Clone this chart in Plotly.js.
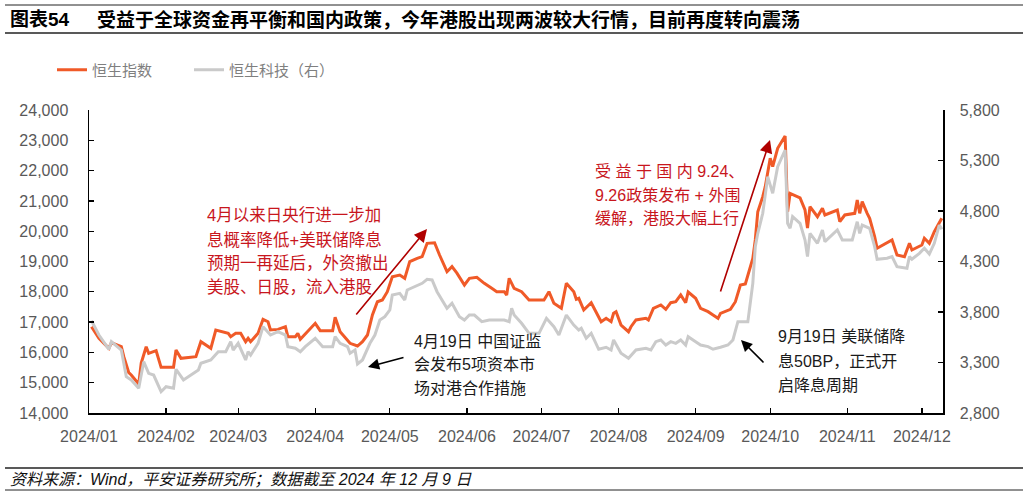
<!DOCTYPE html>
<html>
<head>
<meta charset="utf-8">
<script src="https://cdn.plot.ly/plotly-3.0.1.min.js"></script>
<style>
body { margin: 0; background: #fff; }
#chart { width: 1028px; height: 497px; }
</style>
</head>
<body>
<div id="chart"></div>
<script>
// 恒生指数 (left axis)
const hsiDates = [
  '2024-01-02','2024-01-05','2024-01-09','2024-01-10','2024-01-14','2024-01-15','2024-01-17','2024-01-18',
  '2024-01-21','2024-01-22','2024-01-24','2024-01-25','2024-01-28','2024-01-30','2024-02-01','2024-02-04',
  '2024-02-05','2024-02-07','2024-02-13','2024-02-15','2024-02-19','2024-02-21','2024-02-26','2024-02-27',
  '2024-02-29','2024-03-02','2024-03-04','2024-03-05','2024-03-06','2024-03-09','2024-03-11','2024-03-13',
  '2024-03-14','2024-03-17','2024-03-20','2024-03-21','2024-03-24','2024-03-25','2024-03-26','2024-04-01',
  '2024-04-03','2024-04-08','2024-04-09','2024-04-11','2024-04-15','2024-04-18','2024-04-20','2024-04-22',
  '2024-04-24','2024-04-26','2024-04-28','2024-04-30','2024-05-02','2024-05-05','2024-05-07','2024-05-09',
  '2024-05-12','2024-05-14','2024-05-16','2024-05-19','2024-05-21','2024-05-24','2024-05-26','2024-05-28',
  '2024-05-31','2024-06-02','2024-06-05','2024-06-08','2024-06-11','2024-06-13','2024-06-16','2024-06-17',
  '2024-06-18','2024-06-20','2024-06-23','2024-06-26','2024-07-02','2024-07-04','2024-07-06','2024-07-09',
  '2024-07-11','2024-07-14','2024-07-15','2024-07-16','2024-07-18','2024-07-21','2024-07-25','2024-07-27',
  '2024-07-29','2024-07-30','2024-07-31','2024-08-02','2024-08-05','2024-08-06','2024-08-08','2024-08-12',
  '2024-08-13','2024-08-15','2024-08-18','2024-08-20','2024-08-22','2024-08-24','2024-08-26','2024-08-28',
  '2024-08-29','2024-09-01','2024-09-03','2024-09-06','2024-09-08','2024-09-10','2024-09-11','2024-09-14',
  '2024-09-15','2024-09-17','2024-09-19','2024-09-21','2024-09-23','2024-09-24','2024-09-25','2024-09-26',
  '2024-09-28','2024-09-29','2024-10-01','2024-10-02','2024-10-04','2024-10-07','2024-10-08','2024-10-09',
  '2024-10-13','2024-10-15','2024-10-16','2024-10-17','2024-10-20','2024-10-22','2024-10-23','2024-10-28',
  '2024-10-29','2024-10-31','2024-11-04','2024-11-05','2024-11-06','2024-11-07','2024-11-09','2024-11-10',
  '2024-11-12','2024-11-13','2024-11-19','2024-11-21','2024-11-24','2024-11-26','2024-11-27','2024-12-01',
  '2024-12-02','2024-12-04','2024-12-06','2024-12-09'
];
const hsiValues = [
  16848,16465,16135,16320,16188,15858,15330,15254,
  14957,15650,16188,15970,16056,15508,15508,15508,
  16079,15805,15858,16353,16135,16739,16630,16518,
  16630,16630,16353,16465,16353,16630,17092,17013,
  16739,16760,16848,16518,16518,16630,16432,16960,
  16716,16716,17158,16683,16300,16211,16353,16574,
  17235,17673,17730,18003,18497,18553,18445,18994,
  19104,19160,19600,19620,19214,18664,18830,18614,
  18224,18445,18478,18280,18115,18003,18003,17895,
  18445,18115,18003,17730,17730,18003,17620,17455,
  18280,18003,17752,17785,17400,17640,17013,17125,
  17013,17290,17343,16904,16683,16848,17070,17125,
  17070,17455,17565,17420,17640,17673,17895,17640,
  17993,17785,17455,17345,17235,17125,17290,17375,
  17420,17673,18224,18257,18800,19104,19710,20644,
  21139,21470,22406,22130,22736,23142,20644,21250,
  21100,20700,20100,20810,20478,20756,20535,20700,
  20313,20535,20590,21030,20590,20975,20590,20426,
  19819,19436,19710,19214,19160,19600,19380,19545,
  19766,19600,19984,20426
];

// 恒生科技 (right axis)
const hstDates = [
  '2024-01-02','2024-01-05','2024-01-09','2024-01-10','2024-01-14','2024-01-16','2024-01-18','2024-01-21',
  '2024-01-23','2024-01-25','2024-01-27','2024-01-30','2024-02-01','2024-02-04','2024-02-05','2024-02-08',
  '2024-02-14','2024-02-15','2024-02-19','2024-02-22','2024-02-25','2024-02-27','2024-02-28','2024-03-01',
  '2024-03-04','2024-03-05','2024-03-06','2024-03-09','2024-03-11','2024-03-14','2024-03-17','2024-03-20',
  '2024-03-21','2024-03-24','2024-03-26','2024-03-28','2024-04-01','2024-04-04','2024-04-08','2024-04-09',
  '2024-04-11','2024-04-14','2024-04-15','2024-04-17','2024-04-18','2024-04-20','2024-04-23','2024-04-25',
  '2024-04-27','2024-04-29','2024-05-01','2024-05-02','2024-05-05','2024-05-07','2024-05-08','2024-05-11',
  '2024-05-14','2024-05-16','2024-05-18','2024-05-20','2024-05-23','2024-05-24','2024-05-26','2024-05-29',
  '2024-05-31','2024-06-02','2024-06-04','2024-06-07','2024-06-10','2024-06-14','2024-06-16','2024-06-18',
  '2024-06-19','2024-06-20','2024-06-23','2024-06-26','2024-06-30','2024-07-03','2024-07-06','2024-07-08',
  '2024-07-11','2024-07-14','2024-07-16','2024-07-17','2024-07-19','2024-07-21','2024-07-24','2024-07-27',
  '2024-07-29','2024-07-30','2024-08-02','2024-08-05','2024-08-08','2024-08-12','2024-08-14','2024-08-16',
  '2024-08-18','2024-08-20','2024-08-22','2024-08-24','2024-08-26','2024-08-28','2024-08-29','2024-09-01',
  '2024-09-03','2024-09-06','2024-09-08','2024-09-11','2024-09-14','2024-09-16','2024-09-18','2024-09-22',
  '2024-09-23','2024-09-24','2024-09-25','2024-09-26','2024-09-28','2024-09-30','2024-10-02','2024-10-04',
  '2024-10-07','2024-10-08','2024-10-09','2024-10-10','2024-10-13','2024-10-15','2024-10-16','2024-10-17',
  '2024-10-20','2024-10-22','2024-10-23','2024-10-28','2024-10-30','2024-11-03','2024-11-05','2024-11-06',
  '2024-11-07','2024-11-10','2024-11-12','2024-11-13','2024-11-17','2024-11-19','2024-11-21','2024-11-25',
  '2024-11-26','2024-11-27','2024-11-30','2024-12-02','2024-12-04','2024-12-06','2024-12-08','2024-12-09'
];
const hstValues = [
  3714,3572,3431,3506,3424,3160,3127,3045,
  3308,3193,3176,3011,3060,3045,3233,3127,
  3226,3292,3325,3407,3407,3506,3424,3490,
  3325,3407,3374,3490,3655,3572,3605,3572,
  3457,3441,3407,3457,3540,3457,3457,3556,
  3490,3457,3391,3424,3285,3325,3490,3572,
  3721,3754,3820,3968,3985,3919,4018,4051,
  4084,4124,4117,4001,3869,3837,3886,3754,
  3721,3770,3770,3704,3721,3721,3721,3704,
  3837,3770,3688,3589,3589,3737,3655,3572,
  3770,3671,3622,3639,3540,3589,3431,3451,
  3424,3523,3391,3342,3424,3440,3424,3506,
  3523,3473,3506,3490,3523,3473,3556,3506,
  3473,3457,3431,3451,3473,3523,3704,3704,
  3919,4084,4447,4579,4777,5140,4975,5239,
  5404,4678,4629,4744,4678,4513,4348,4579,
  4480,4612,4496,4612,4513,4513,4694,4579,
  4661,4629,4447,4322,4332,4348,4249,4233,
  4348,4322,4381,4431,4374,4480,4661,4620
];

const legendNames = ['恒生指数', '恒生科技（右）'];
const leftTicks = [14000, 24000, 1000];
const rightTicks = [2800, 5800, 500];

// pixel -> paper helpers (plot area is x 89..943, y 110..413)
const PL = 89, PR = 943, PT = 110, PB = 413;
const px = x => (x - PL) / (PR - PL);
const py = y => (PB - y) / (PB - PT);

const FONT = 'Liberation Sans, Arial, Noto Sans CJK SC, sans-serif';
const RED = '#C8161D';

const traces = [
  {
    x: hstDates, y: hstValues, yaxis: 'y2', name: legendNames[1],
    type: 'scatter', mode: 'lines', legendrank: 2,
    line: { color: '#CACACA', width: 3 }
  },
  {
    x: hsiDates, y: hsiValues, name: legendNames[0],
    type: 'scatter', mode: 'lines', legendrank: 1,
    line: { color: '#F05A28', width: 3 }
  }
];

function textLines(lines, x, ys, color, size) {
  return lines.map((t, i) => ({
    xref: 'paper', yref: 'paper', x: px(x), y: py(ys[i]),
    xanchor: 'left', yanchor: 'middle', showarrow: false,
    text: t, font: { size: size, color: color, family: FONT }
  }));
}

function arrow(tail, tip, color, size) {
  return {
    xref: 'paper', yref: 'paper', x: px(tip[0]), y: py(tip[1]),
    axref: 'pixel', ayref: 'pixel', ax: tail[0] - tip[0], ay: tail[1] - tip[1],
    text: '', showarrow: true, arrowhead: 2, arrowsize: size, arrowwidth: 1.6,
    arrowcolor: color, standoff: 0
  };
}

const annotations = [
  { xref: 'paper', yref: 'paper', x: px(8), y: py(20), xanchor: 'left', yanchor: 'middle',
    showarrow: false, text: '<b>图表54</b>', font: { size: 19, color: '#000', family: FONT } },
  { xref: 'paper', yref: 'paper', x: px(95), y: py(20), xanchor: 'left', yanchor: 'middle',
    showarrow: false, text: '<b>受益于全球资金再平衡和国内政策，今年港股出现两波较大行情，目前再度转向震荡</b>',
    font: { size: 19, color: '#000', family: FONT } },
  { xref: 'paper', yref: 'paper', x: px(8), y: py(479), xanchor: 'left', yanchor: 'middle',
    showarrow: false, text: '资料来源：Wind，平安证券研究所；数据截至 2024 年 12 月 9 日',
    font: { size: 16, color: '#111', family: FONT, style: 'italic' } },
  ...textLines(['4月以来日央行进一步加', '息概率降低+美联储降息', '预期一再延后，外资撤出', '美股、日股，流入港股'],
    205, [215, 240, 263, 287], RED, 16.5),
  ...textLines(['受 益 于 国 内 9.24、', '9.26政策发布 + 外围', '缓解，港股大幅上行'],
    593, [171, 195, 218], RED, 16),
  ...textLines(['4月19日 中国证监', '会发布5项资本市', '场对港合作措施'],
    412, [341, 364, 388], '#1a1a1a', 16),
  ...textLines(['9月19日 美联储降', '息50BP，正式开', '启降息周期'],
    776, [336, 361, 385], '#1a1a1a', 16),
  arrow([355, 316], [427, 229], '#B00000', 1.6),
  arrow([720, 293], [770, 140], '#B00000', 1.6),
  arrow([405, 357], [368, 367], '#000', 1.4),
  arrow([765, 364], [741, 340], '#000', 1.4)
];

const hline = (y, w) => ({
  type: 'line', xref: 'paper', yref: 'paper',
  x0: px(5), x1: px(1023), y0: py(y), y1: py(y),
  line: { color: '#222', width: w }
});

const layout = {
  width: 1028, height: 497,
  margin: { l: PL, r: 1028 - PR, t: PT, b: 497 - PB, pad: 0 },
  paper_bgcolor: '#fff', plot_bgcolor: '#fff',
  font: { family: FONT, size: 16, color: '#595959' },
  showlegend: true,
  legend: {
    orientation: 'h', x: px(52), y: py(70), xanchor: 'left', yanchor: 'middle',
    font: { size: 15, color: '#7f7f7f', family: FONT },
    entrywidth: 92, entrywidthmode: 'pixels', bgcolor: 'rgba(0,0,0,0)'
  },
  xaxis: {
    type: 'date', range: ['2024-01-01', '2024-12-09 12:00'],
    tick0: '2024-01-01', dtick: 'M1', tickformat: '%Y/%m',
    showline: true, linecolor: '#000', linewidth: 1.5,
    ticks: 'inside', ticklen: 5, tickcolor: '#000', tickwidth: 1.3,
    showgrid: false, zeroline: false, ticklabelstandoff: 8,
    tickfont: { size: 16, color: '#595959' }
  },
  yaxis: {
    range: [leftTicks[0], leftTicks[1]], tick0: leftTicks[0], dtick: leftTicks[2],
    tickformat: ',d', showline: true, linecolor: '#000', linewidth: 1.5,
    ticks: 'inside', ticklen: 5, tickcolor: '#000', tickwidth: 1.3,
    showgrid: false, zeroline: false, ticklabelstandoff: 16,
    tickfont: { size: 16, color: '#595959' }
  },
  yaxis2: {
    overlaying: 'y', side: 'right',
    range: [rightTicks[0], rightTicks[1]], tick0: rightTicks[0], dtick: rightTicks[2],
    tickformat: ',d', showline: true, linecolor: '#000', linewidth: 1.5,
    ticks: 'inside', ticklen: 5, tickcolor: '#000', tickwidth: 1.3,
    showgrid: false, zeroline: false, ticklabelstandoff: 12,
    tickfont: { size: 16, color: '#595959' }
  },
  annotations: annotations,
  shapes: [hline(5, 1), hline(33, 1.5), hline(468, 1.5), hline(490, 1)]
};

Plotly.newPlot('chart', traces, layout, { displayModeBar: false, staticPlot: true });
</script>
</body>
</html>
